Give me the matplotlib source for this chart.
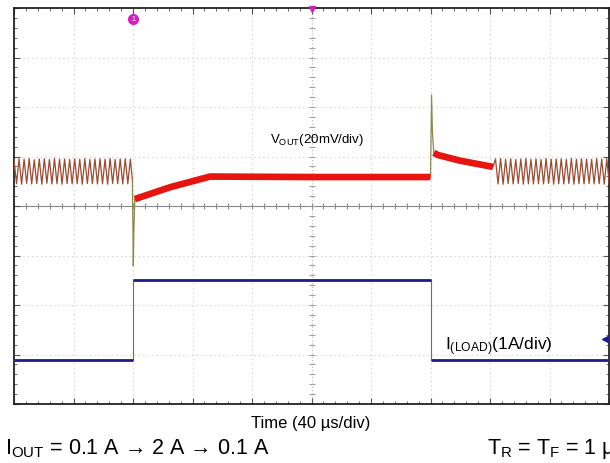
import numpy as np
import matplotlib
matplotlib.use("Agg")
import matplotlib.pyplot as plt

plt.rcParams['font.family'] = ['Liberation Sans', 'DejaVu Sans']
plt.rcParams['mathtext.fontset'] = 'custom'
plt.rcParams['mathtext.rm'] = 'Liberation Sans'
plt.rcParams['mathtext.it'] = 'Liberation Sans:italic'

# scope settings
t_per_div = 40.0      # us/div
v_per_div = 20.0      # mV/div
i_per_div = 1.0       # A/div
i_offset_div = -3.21  # screen position of 0 A

# VOUT (mV, relative to screen centre) -- ripple before the load step
ripple_left_t = [0.0, 1.7, 3.4, 5.1, 6.8, 8.5, 10.2, 11.9, 13.6, 15.3, 17.0, 18.7,
                 20.4, 22.1, 23.8, 25.5, 27.2, 28.9, 30.6, 32.3, 34.0, 35.7, 37.4, 39.1,
                 40.8, 42.5, 44.2, 45.9, 47.6, 49.3, 51.0, 52.7, 54.4, 56.1, 57.8, 59.5,
                 61.2, 62.9, 64.6, 66.3, 68.0, 69.7, 71.4, 73.1, 74.8, 76.5, 78.2, 79.6]
ripple_left_mv = [18.8, 9.0, 19.1, 8.8, 18.9, 9.1, 19.2, 8.9, 18.7, 9.0, 19.0, 8.8,
                  19.1, 9.2, 18.8, 8.9, 19.2, 9.0, 18.9, 8.8, 19.0, 9.1, 18.8, 8.9,
                  19.1, 9.0, 18.9, 8.8, 19.2, 9.1, 18.8, 9.0, 19.0, 8.9, 19.1, 9.0,
                  18.9, 8.8, 19.2, 9.1, 18.8, 9.0, 19.0, 8.9, 19.1, 9.0, 18.9, 10.5]

# load-step transient
spike1_t = [79.6, 80.2, 80.6, 81.2]
spike1_mv = [10.5, -24.2, -10.0, 2.8]
recovery_t = [81.2, 105.0, 131.8, 200.0, 280.0]
recovery_mv = [2.8, 7.6, 11.9, 11.7, 11.7]
spike2_t = [280.0, 280.7, 281.3, 282.2]
spike2_mv = [11.7, 44.8, 30.0, 21.5]
decay_t = [282.2, 285.0, 300.0, 322.0]
decay_mv = [21.5, 20.6, 18.3, 15.8]

# ripple after the load release
ripple_right_t = [322.0, 323.7, 325.4, 327.1, 328.8, 330.5, 332.2, 333.9, 335.6, 337.3,
                  339.0, 340.7, 342.4, 344.1, 345.8, 347.5, 349.2, 350.9, 352.6, 354.3,
                  356.0, 357.7, 359.4, 361.1, 362.8, 364.5, 366.2, 367.9, 369.6, 371.3,
                  373.0, 374.7, 376.4, 378.1, 379.8, 381.5, 383.2, 384.9, 386.6, 388.3,
                  390.0, 391.7, 393.4, 395.1, 396.8, 398.5, 400.2]
ripple_right_mv = [15.8, 19.0, 8.9, 19.2, 8.8, 18.9, 9.0, 19.1, 8.9, 18.8,
                   9.1, 19.0, 8.8, 19.2, 9.0, 18.9, 8.9, 19.1, 9.0, 18.8,
                   8.9, 19.2, 9.1, 18.9, 8.8, 19.0, 9.0, 19.1, 8.9, 18.8,
                   9.1, 19.2, 8.8, 18.9, 9.0, 19.1, 8.9, 19.0, 9.1, 18.8,
                   8.9, 19.2, 9.0, 18.9, 8.8, 19.1, 9.0]

# load current (A)
iload_t = [0.0, 80.0, 80.0, 280.3, 280.3, 400.0]
iload_a = [0.1, 0.1, 1.715, 1.715, 0.1, 0.1]


def vdiv(mv):
    return np.array(mv) / v_per_div


def idiv(a):
    return np.array(a) / i_per_div + i_offset_div


fig = plt.figure(figsize=(6.1, 4.64), dpi=100)
ax = fig.add_axes([14 / 610, 59 / 464, 595 / 610, 396 / 464])
ax.set_xlim(0, 10 * t_per_div)
ax.set_ylim(-4, 4)

# graticule
for k in range(1, 10):
    if k != 5:
        ax.axvline(k * t_per_div, color='#c8c8c8', lw=0.8, ls=(0, (1, 3)), zorder=1)
for k in range(-3, 4):
    if k != 0:
        ax.axhline(k, color='#c8c8c8', lw=0.8, ls=(0, (1, 3)), zorder=1)
ax.axhline(0, color='#8a8a8a', lw=0.8, zorder=1)
ax.axvline(5 * t_per_div, color='#b4b4b4', lw=0.8, ls=(0, (1, 2)), zorder=1)
minor_x = np.arange(0, 401, t_per_div / 5)
minor_y = np.arange(-4, 4.01, 0.2)
ax.plot(minor_x, np.zeros_like(minor_x), ls='none', marker='|', ms=5, mew=0.8,
        color='#8a8a8a', zorder=1)
ax.plot(np.full_like(minor_y, 200.0), minor_y, ls='none', marker='_', ms=5, mew=0.8,
        color='#a0a0a0', zorder=1)

ax.set_xticks(np.arange(0, 401, t_per_div))
ax.set_yticks(np.arange(-4, 4.1, 1))
ax.set_xticks(minor_x, minor=True)
ax.set_yticks(minor_y, minor=True)
ax.tick_params(which='both', direction='in', top=True, right=True,
               labelbottom=False, labelleft=False, color='#555555')
ax.tick_params(which='major', length=4, width=0.8)
ax.tick_params(which='minor', length=2.5, width=0.6)
for s in ax.spines.values():
    s.set_linewidth(1.3)
    s.set_color('#222222')

# VOUT trace
ax.plot(ripple_left_t, vdiv(ripple_left_mv), color='#9c4a30', lw=0.9, zorder=3)
ax.plot(ripple_right_t, vdiv(ripple_right_mv), color='#9c4a30', lw=0.9, zorder=3)
ax.plot(spike1_t, vdiv(spike1_mv), color='#8c8a4c', lw=0.9, zorder=3)
ax.plot(spike2_t, vdiv(spike2_mv), color='#8c8a4c', lw=0.9, zorder=3)
ax.plot(recovery_t, vdiv(recovery_mv), color='#e81410', lw=4.8,
        solid_capstyle='butt', zorder=4)
ax.plot(decay_t, vdiv(decay_mv), color='#e81410', lw=4.8,
        solid_capstyle='butt', zorder=4)

# load current trace
ax.plot(iload_t, idiv(iload_a), color='#6a6a9a', lw=0.8, zorder=3)
for a, b in [(0, 2), (2, 4), (4, 6)]:
    ax.plot(iload_t[a:b], idiv(iload_a[a:b]), color='#1c1c8c', lw=2.0,
            solid_capstyle='butt', zorder=4)

# channel / trigger markers
ax.plot([80.0], [3.78], marker='o', ms=7, color='#d020c0', mec='#d020c0',
        clip_on=False, zorder=6)
ax.text(80.0, 3.78, '1', color='white', fontsize=5, ha='center', va='center',
        zorder=7)
ax.plot([200.0], [3.97], marker='v', ms=5, color='#d020c0', clip_on=False, zorder=6)
ax.plot([397.5], [-2.69], marker='<', ms=4, color='#1c1c8c', clip_on=False, zorder=6)

ax.text(172, 1.29, r'V$_{\rm OUT}$(20mV/div)', fontsize=9.5, ha='left',
        va='baseline', zorder=5)
ax.text(290, -2.89, r'I$_{\rm (LOAD)}$(1A/div)', fontsize=12.5, ha='left',
        va='baseline', zorder=5)

fig.text(311 / 610, 1 - 428 / 464, 'Time (40 µs/div)', fontsize=12, ha='center',
         va='baseline')
fig.text(5 / 610, 1 - 454 / 464, r'I$_{\rm OUT}$ = 0.1 A → 2 A → 0.1 A', fontsize=15.5,
         ha='left', va='baseline')
fig.text(487 / 610, 1 - 454 / 464, r'T$_{\rm R}$ = T$_{\rm F}$ = 1 µs', fontsize=15.5,
         ha='left', va='baseline')

fig.savefig('out.png', dpi=100)
